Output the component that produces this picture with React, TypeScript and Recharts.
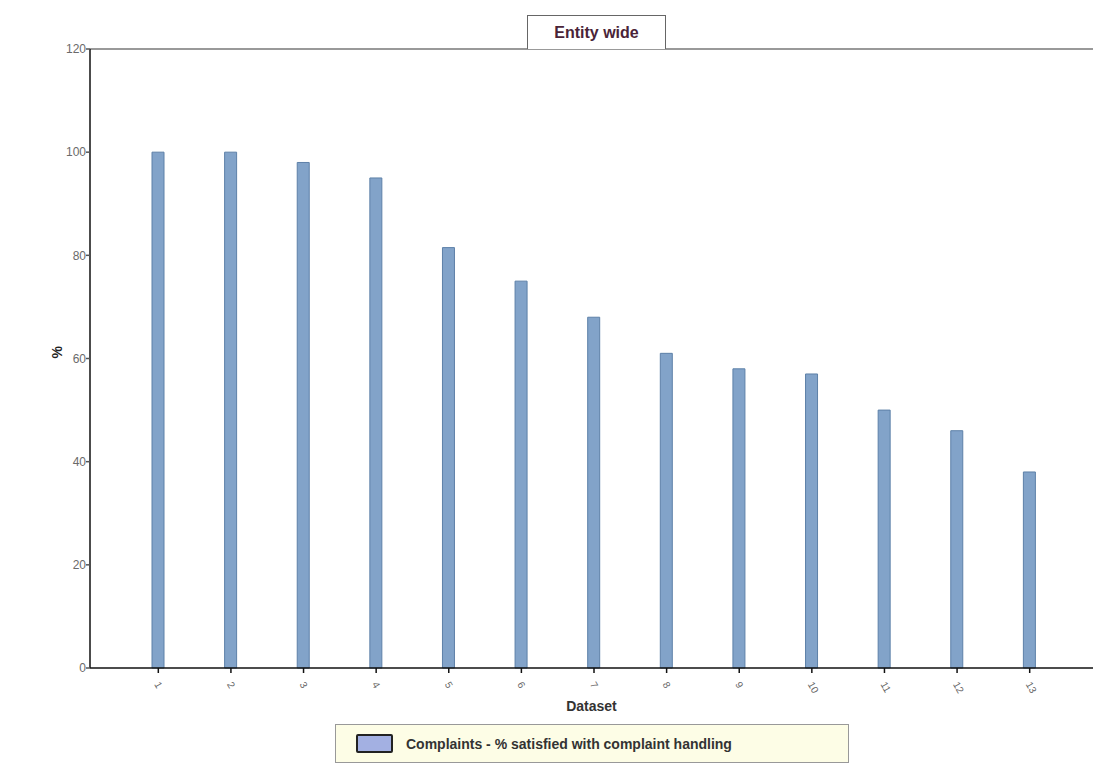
import { BarChart, Bar, XAxis, YAxis, ReferenceLine } from "recharts";

const datasets = ["1", "2", "3", "4", "5", "6", "7", "8", "9", "10", "11", "12", "13"];
const satisfied = [100, 100, 98, 95, 81.5, 75, 68, 61, 58, 57, 50, 46, 38];
const yTicks = [0, 20, 40, 60, 80, 100, 120];

const data = datasets.map((name, i) => ({ name, value: satisfied[i] }));

function DatasetTick(props: any) {
  const { x, y, payload } = props;
  return (
    <g transform={`translate(${x - 2},${y + 8})`}>
      <text
        transform="rotate(60)"
        textAnchor="start"
        dominantBaseline="middle"
        fontSize={10}
        fill="#666"
        fontFamily="Arial, 'Liberation Sans', sans-serif"
      >
        {payload.value}
      </text>
    </g>
  );
}

export default function App() {
  return (
    <div
      style={{
        position: "absolute",
        left: 0,
        top: 0,
        width: 1093,
        height: 769,
        background: "#fff",
        fontFamily: "Arial, 'Liberation Sans', sans-serif",
      }}
    >
      <BarChart
        width={1093}
        height={769}
        data={data}
        margin={{ top: 49, right: 0, bottom: 41, left: 0 }}
        barSize={12}
      >
        <ReferenceLine y={120} stroke="#777" strokeWidth={1.5} ifOverflow="extendDomain" />
        <XAxis
          dataKey="name"
          height={60}
          padding={{ left: 32, right: 27 }}
          stroke="#111"
          strokeWidth={1.5}
          tickSize={5}
          tick={<DatasetTick />}
          tickLine={{ stroke: "#111", strokeWidth: 1.5 }}
          interval={0}
        />
        <YAxis
          domain={[0, 120]}
          ticks={yTicks}
          width={90}
          stroke="#111"
          strokeWidth={1.5}
          tickSize={4}
          tickMargin={0}
          tickLine={{ stroke: "#555" }}
          tick={{ fontSize: 12, fill: "#6a6a6a" }}
          label={{
            value: "%",
            angle: -90,
            position: "insideLeft",
            offset: 57,
            style: { fontSize: 14, fontWeight: "bold", fill: "#222" },
          }}
        />
        <Bar
          dataKey="value"
          fill="#82a3c9"
          stroke="#5d80a8"
          strokeWidth={1}
          isAnimationActive={false}
        />
      </BarChart>

      <div
        style={{
          position: "absolute",
          left: 527,
          top: 15,
          width: 137,
          height: 33,
          border: "1px solid #666",
          borderBottom: "none",
          background: "#fff",
          display: "flex",
          alignItems: "center",
          justifyContent: "center",
          fontSize: 16,
          fontWeight: "bold",
          color: "#4a2438",
        }}
      >
        Entity wide
      </div>

      <div
        style={{
          position: "absolute",
          left: 0,
          width: 1183,
          top: 698,
          textAlign: "center",
          fontSize: 14,
          fontWeight: "bold",
          color: "#333",
        }}
      >
        Dataset
      </div>

      <div
        style={{
          position: "absolute",
          left: 335,
          top: 724,
          width: 514,
          height: 39,
          boxSizing: "border-box",
          border: "1px solid #999",
          background: "#fdfde6",
          display: "flex",
          alignItems: "center",
          paddingLeft: 20,
          fontSize: 14,
          fontWeight: "bold",
          color: "#333",
        }}
      >
        <span
          style={{
            display: "inline-block",
            width: 33,
            height: 15,
            background: "#a3b0e2",
            border: "2px solid #222",
            borderRadius: 2,
            marginRight: 13,
          }}
        />
        Complaints - % satisfied with complaint handling
      </div>
    </div>
  );
}
